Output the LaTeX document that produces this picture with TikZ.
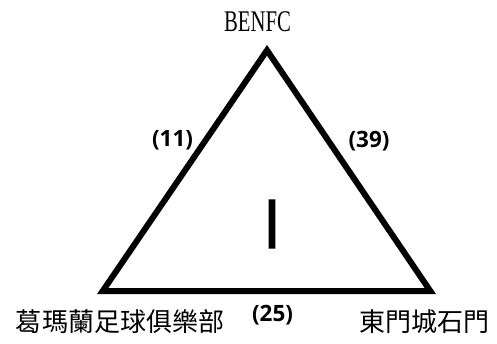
\documentclass[tikz,border=0pt]{standalone}
\usepackage{fontspec}
\setmainfont{Liberation Serif}
\newfontfamily\cjkfont{Noto Sans CJK TC}
\newfontfamily\numfont{Open Sans}
\newfontfamily\romfont[FakeBold=2]{Open Sans}
\begin{document}
\begin{tikzpicture}[x=1pt,y=1pt,line width=6pt,line join=miter,
  num/.style={inner sep=0,font=\numfont\bfseries\fontsize{22.5}{26}\selectfont},
  club/.style={inner sep=0,font=\cjkfont\fontsize{26}{30}\selectfont}]
\useasboundingbox (0,0) rectangle (497,343);
\coordinate (T) at (267,292.7);
\coordinate (L) at (102.7,52);
\coordinate (R) at (430.3,52);
\draw (T) -- (L) -- (R) -- cycle;

\node[inner sep=0,font=\fontsize{30}{34}\selectfont] (benfc) at (257.5,321) {\scalebox{0.69}[1]{BENFC}};
\node[club] (gml) at (120,21) {葛瑪蘭足球俱樂部};
\node[club] (dmc) at (424,21) {東門城石門};
\node[num] (n11) at (172.5,202.5) {(11)};
\node[num] (n39) at (369,202) {(39)};
\node[num] (n25) at (272.5,28) {(25)};
\node[inner sep=0,font=\romfont\fontsize{67}{70}\selectfont] (one) at (272,119) {I};

\end{tikzpicture}
\end{document}
